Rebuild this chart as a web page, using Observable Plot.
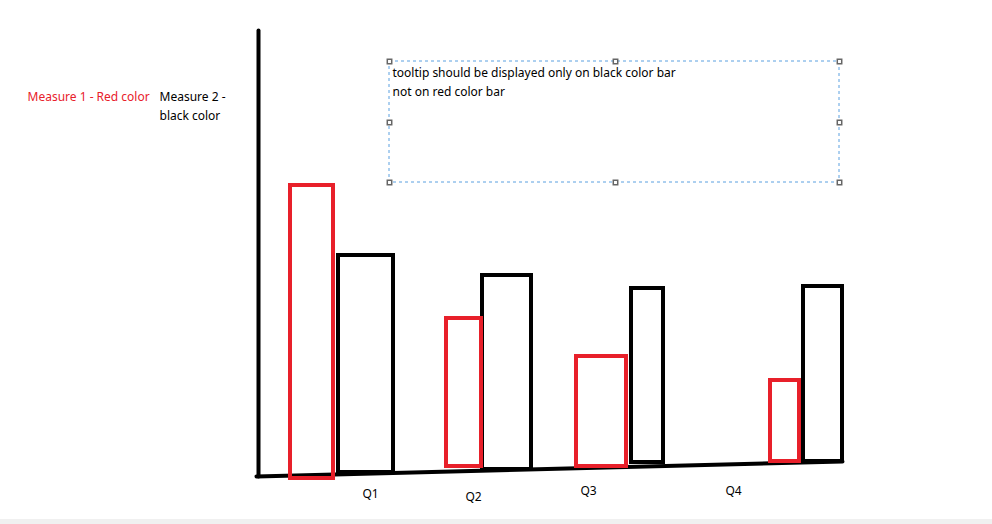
<!DOCTYPE html>
<html>
<head>
<meta charset="utf-8">
<script src="https://cdn.jsdelivr.net/npm/d3@7"></script>
<script src="https://cdn.jsdelivr.net/npm/@observablehq/plot@0.6"></script>
<style>
  body { margin: 0; background: #fff; font-family: "Open Sans", "DejaVu Sans", sans-serif; }
</style>
</head>
<body>
<div id="chart"></div>
<script>
// sketch coordinates: x in px from left, y in px from top (y scale is reversed)
const quarters = ["Q1", "Q2", "Q3", "Q4"];
const redLeft = [290, 446, 576, 770];
const redRight = [333, 481, 626, 799];
const redTop = [185, 318, 356, 380];
const redBottom = [478, 466, 466, 461];
const blackLeft = [338, 482, 631, 803];
const blackRight = [393, 531, 663, 842];
const blackTop = [255, 275, 288, 286];
const blackBottom = [472, 469, 462, 461];
const labelX = [370, 473, 588, 733];
const labelY = [494, 497, 491, 491];

const red = quarters.map((q, i) => ({q, x1: redLeft[i], x2: redRight[i], y1: redBottom[i], y2: redTop[i]}));
const black = quarters.map((q, i) => ({q, x1: blackLeft[i], x2: blackRight[i], y1: blackBottom[i], y2: blackTop[i]}));
const labels = quarters.map((q, i) => ({q, x: labelX[i], y: labelY[i]}));

const box = [{x1: 389, x2: 839, y1: 61, y2: 182}];
const handles = [[389,61],[615,61],[839,61],[389,122],[839,122],[389,182],[615,182],[839,182]].map(([x, y]) => ({x, y}));

const chart = Plot.plot({
  width: 992,
  height: 524,
  margin: 0,
  x: {domain: [0, 992], range: [0, 992], axis: null},
  y: {domain: [0, 524], range: [0, 524], axis: null},
  marks: [
    Plot.rect([{x1: 0, x2: 992, y1: 519, y2: 524}], {x1: "x1", x2: "x2", y1: "y1", y2: "y2", fill: "#f0f0f0"}),
    Plot.line([{x: 258, y: 30}, {x: 258, y: 476}], {x: "x", y: "y", stroke: "black", strokeWidth: 4}),
    Plot.line([{x: 256, y: 476}, {x: 842, y: 461}], {x: "x", y: "y", stroke: "black", strokeWidth: 4}),
    Plot.rect(black, {x1: "x1", x2: "x2", y1: "y1", y2: "y2", fill: "none", stroke: "black", strokeWidth: 4}),
    Plot.rect(red, {x1: "x1", x2: "x2", y1: "y1", y2: "y2", fill: "none", stroke: "#e8202a", strokeWidth: 4}),
    Plot.text(labels, {x: "x", y: "y", text: "q", fontSize: 12, fill: "black"}),
    Plot.rect(box, {x1: "x1", x2: "x2", y1: "y1", y2: "y2", fill: "none", stroke: "#5aa0e0", strokeDasharray: "3,3"}),
    Plot.dot(handles, {x: "x", y: "y", symbol: "square", r: 2.5, fill: "white", stroke: "#666"}),
    Plot.text([{x: 392, y: 73, t: "tooltip should be displayed only on black color bar"}, {x: 392, y: 92, t: "not on red color bar"}],
      {x: "x", y: "y", text: "t", textAnchor: "start", fontSize: 12, fill: "black"}),
    Plot.text([{x: 27, y: 97, t: "Measure 1 - Red color"}], {x: "x", y: "y", text: "t", textAnchor: "start", fontSize: 12, fill: "#e8202a"}),
    Plot.text([{x: 159, y: 97, t: "Measure 2 -"}, {x: 159, y: 116, t: "black color"}], {x: "x", y: "y", text: "t", textAnchor: "start", fontSize: 12, fill: "black"})
  ]
});
document.getElementById("chart").appendChild(chart);
</script>
</body>
</html>
